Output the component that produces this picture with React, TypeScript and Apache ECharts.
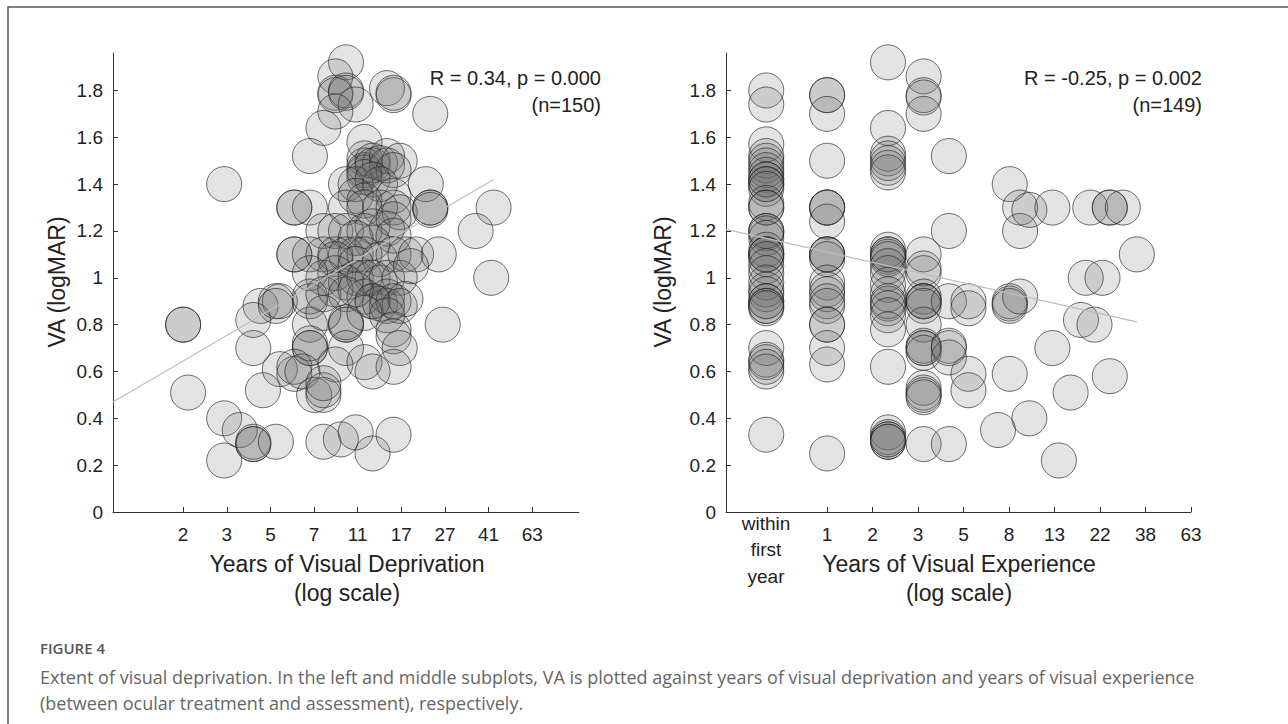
import React, { useEffect, useRef } from 'react';
import * as echarts from 'echarts';

// ---------- tick labels ----------
const leftTickLabels = ['2', '3', '5', '7', '11', '17', '27', '41', '63'];
const rightTickLabels = ['1', '2', '3', '5', '8', '13', '22', '38', '63'];
const yTickValues = [0, 0.2, 0.4, 0.6, 0.8, 1, 1.2, 1.4, 1.6, 1.8];

// ---------- left: years of visual deprivation vs VA ----------
const deprivationPoints: [number, number][] = [
  [10, 1.92], [9, 1.86], [9, 1.79], [9, 1.78], [10, 1.8], [10, 1.79], [11, 1.74], [9, 1.71], [8, 1.64],
  [15, 1.81], [16, 1.78], [16, 1.79], [23, 1.7], [7, 1.52], [3, 1.4], [12, 1.58],
  [12, 1.51], [12, 1.48], [12, 1.46], [12, 1.45], [13, 1.5], [13, 1.48], [14, 1.49], [15, 1.52], [15, 1.48],
  [17, 1.5], [16, 1.46], [12, 1.43], [10, 1.4], [11, 1.4], [13, 1.42], [14, 1.4], [22, 1.4],
  [11, 1.35], [16, 1.35], [12, 1.33], [6, 1.3], [6, 1.3], [7, 1.3], [10, 1.3], [12, 1.3], [14, 1.3], [16, 1.3],
  [17, 1.28], [23, 1.3], [23, 1.3], [23, 1.29], [43, 1.3],
  [8, 1.2], [9, 1.2], [10, 1.2], [12, 1.2], [13, 1.22], [15, 1.21], [16, 1.25], [16, 1.18], [36, 1.2], [11, 1.17], [13, 1.15],
  [6, 1.1], [6, 1.1], [7, 1.1], [8, 1.1], [9, 1.1], [10, 1.1], [11, 1.1], [12, 1.1], [14, 1.08], [16, 1.1],
  [18, 1.1], [20, 1.1], [25, 1.1], [9, 1.08], [11, 1.06],
  [8, 1.0], [9, 1.02], [10, 0.98], [11, 1.0], [12, 1.0], [13, 1.0], [14, 0.98], [15, 1.0], [17, 1.0], [19, 1.05], [42, 1.0], [7, 1.02],
  [4.3, 0.88], [5, 0.9], [5.2, 0.9], [5, 0.88], [7, 0.9], [7, 0.92], [8, 0.93], [9, 0.95], [10, 0.93], [12, 0.92],
  [13, 0.9], [13, 0.9], [14, 0.89], [15, 0.88], [15, 0.92], [16, 0.9], [17, 0.88], [18, 0.91], [11, 0.95],
  [2, 0.8], [2, 0.8], [4, 0.82], [7, 0.8], [10, 0.8], [10, 0.8], [10, 0.81], [16, 0.78], [26, 0.8], [12, 0.85], [15, 0.84], [8, 0.85],
  [4, 0.7], [7, 0.7], [7, 0.7], [7, 0.72], [10, 0.7], [16, 0.75], [17, 0.7],
  [5.2, 0.61], [6, 0.59], [6, 0.62], [6.5, 0.6], [9, 0.63], [12, 0.64], [13, 0.6], [16, 0.62],
  [2.1, 0.51], [4.4, 0.52], [7.3, 0.5], [8, 0.5], [8, 0.52], [8, 0.55],
  [3, 0.4], [3, 0.22], [3.5, 0.35], [4, 0.29], [4, 0.3], [4, 0.29], [5, 0.3], [8, 0.3], [9.5, 0.31], [11, 0.34], [13, 0.25], [16, 0.33],
];

// ---------- right: years of visual experience vs VA (0.5 = within first year) ----------
const experiencePoints: [number, number][] = [
  [0.5, 1.8], [0.5, 1.74], [0.5, 1.57], [0.5, 1.52], [0.5, 1.5], [0.5, 1.48], [0.5, 1.46], [0.5, 1.44], [0.5, 1.42], [0.5, 1.42],
  [0.5, 1.4], [0.5, 1.4], [0.5, 1.38], [0.5, 1.32], [0.5, 1.3], [0.5, 1.3], [0.5, 1.2], [0.5, 1.2], [0.5, 1.19], [0.5, 1.17],
  [0.5, 1.12], [0.5, 1.1], [0.5, 1.1], [0.5, 1.1], [0.5, 1.08], [0.5, 1.05], [0.5, 1.02], [0.5, 0.98], [0.5, 0.95], [0.5, 0.93],
  [0.5, 0.9], [0.5, 0.9], [0.5, 0.88], [0.5, 0.88], [0.5, 0.87], [0.5, 0.7], [0.5, 0.65], [0.5, 0.64], [0.5, 0.62], [0.5, 0.6], [0.5, 0.33],
  [1, 1.78], [1, 1.78], [1, 1.7], [1, 1.5], [1, 1.3], [1, 1.3], [1, 1.3], [1, 1.24], [1, 1.1], [1, 1.1], [1, 1.1], [1, 1.08],
  [1, 0.98], [1, 0.95], [1, 0.93], [1, 0.9], [1, 0.88], [1, 0.8], [1, 0.8], [1, 0.7], [1, 0.63], [1, 0.25],
  [2, 1.92], [2, 1.64], [2, 1.53], [2, 1.51], [2, 1.49], [2, 1.47], [2, 1.45], [2, 1.12], [2, 1.1], [2, 1.1], [2, 1.09], [2, 1.08],
  [2, 1.05], [2, 1.02], [2, 0.97], [2, 0.93], [2, 0.89], [2, 0.9], [2, 0.87], [2, 0.84], [2, 0.78], [2, 0.62],
  [2, 0.34], [2, 0.32], [2, 0.31], [2, 0.31], [2, 0.3], [2, 0.3],
  [3, 1.86], [3, 1.78], [3, 1.77], [3, 1.7], [3, 1.1], [3, 1.04], [3, 1.02], [3, 0.92], [3, 0.9], [3, 0.9], [3, 0.9], [3, 0.88],
  [3, 0.8], [3, 0.71], [3, 0.7], [3, 0.7], [3, 0.68], [3, 0.53], [3, 0.51], [3, 0.5], [3, 0.49], [3, 0.29],
  [4, 1.52], [4, 1.2], [4, 0.9], [4, 0.71], [4, 0.7], [4, 0.66], [4, 0.29],
  [5, 0.9], [5, 0.87], [5, 0.59], [5, 0.52],
  [7, 0.35],
  [8, 1.4], [8, 0.9], [8, 0.89], [8, 0.88], [8, 0.59],
  [9, 1.3], [9, 1.2], [9, 0.92],
  [10, 1.29], [10, 0.4],
  [13, 1.3], [13, 0.7], [14, 0.22], [16, 0.51], [18, 0.82], [19, 1.0], [20, 1.3], [21, 0.8], [23, 1.0],
  [25, 1.3], [25, 1.3], [25, 0.58], [29, 1.3], [34, 1.1],
];

// ---------- regression lines (end points) ----------
const deprivationFit: [number, number][] = [[1, 0.47], [43, 1.42]];
const experienceFit: [number, number][] = [[0.316, 1.207], [34, 0.812]];

const leftStats = ['R = 0.34, p = 0.000', '(n=150)'];
const rightStats = ['R = -0.25, p = 0.002', '(n=149)'];

const captionTitle = 'FIGURE 4';
const captionLines = [
  'Extent of visual deprivation. In the left and middle subplots, VA is plotted against years of visual deprivation and years of visual experience',
  '(between ocular treatment and assessment), respectively.',
];

const lg = (v: number) => Math.log10(v);

const leftRatio = Math.pow(63 / 2, 1 / 8);
const leftTickPos = leftTickLabels.map((_, k) => lg(2) + k * lg(leftRatio));
const rightRatio = Math.pow(63, 1 / 8);
const rightTickPos = rightTickLabels.map((_, k) => k * lg(rightRatio));

const FONT = 'Liberation Sans';
const CAPTION_FONT = 'Open Sans';
const AXIS_COLOR = '#333';
const LABEL_COLOR = '#222';

function makeX(gridIndex: number, min: number, max: number, ticks: number[], labels: string[], start: number, step: number) {
  return {
    type: 'value',
    gridIndex,
    min,
    max,
    axisLine: { show: true, onZero: false, lineStyle: { color: AXIS_COLOR, width: 1 } },
    axisTick: { show: true, inside: true, length: 5, customValues: ticks, lineStyle: { color: AXIS_COLOR } },
    splitLine: { show: false },
    axisLabel: {
      customValues: ticks,
      margin: 13,
      fontSize: 19,
      fontFamily: FONT,
      color: LABEL_COLOR,
      formatter: (v: number) => {
        const k = Math.round((v - start) / step);
        return labels[k] ?? '';
      },
    },
  };
}

function makeY(gridIndex: number) {
  return {
    type: 'value',
    gridIndex,
    min: 0,
    max: 1.96,
    axisLine: { show: true, onZero: false, lineStyle: { color: AXIS_COLOR, width: 1 } },
    axisTick: { show: true, inside: true, length: 5, customValues: yTickValues, lineStyle: { color: AXIS_COLOR } },
    splitLine: { show: false },
    axisLabel: {
      customValues: yTickValues,
      margin: 10,
      fontSize: 19,
      fontFamily: FONT,
      color: LABEL_COLOR,
      formatter: (v: number) => (Math.abs(v - Math.round(v)) < 1e-9 ? String(Math.round(v)) : v.toFixed(1)),
    },
  };
}

function txt(x: number, y: number, text: string, opts: any = {}) {
  return {
    type: 'text',
    x,
    y,
    rotation: opts.rotation || 0,
    style: {
      text,
      fontSize: opts.fontSize || 18,
      fontFamily: opts.fontFamily || FONT,
      fontWeight: opts.fontWeight || 'normal',
      fill: opts.fill || LABEL_COLOR,
      align: opts.align || 'center',
      verticalAlign: opts.verticalAlign || 'middle',
      textAlign: opts.align || 'center',
      textVerticalAlign: opts.verticalAlign || 'middle',
      lineHeight: opts.lineHeight,
    },
  };
}

const scatterStyle = {
  color: 'rgba(105,105,105,0.23)',
  borderColor: 'rgba(40,40,40,0.85)',
  borderWidth: 1,
};

export default function App() {
  const ref = useRef<HTMLDivElement>(null);

  useEffect(() => {
    if (!ref.current) return;
    const chart = echarts.init(ref.current, undefined, { renderer: 'svg' });
    const option: any = {
      animation: false,
      backgroundColor: '#fff',
      grid: [
        { left: 113, top: 53, width: 466, height: 459 },
        { left: 726, top: 53, width: 465, height: 459 },
      ],
      xAxis: [
        makeX(0, 0, 2, leftTickPos, leftTickLabels, lg(2), lg(leftRatio)),
        makeX(1, -0.5, lg(63), rightTickPos, rightTickLabels, 0, lg(rightRatio)),
      ],
      yAxis: [makeY(0), makeY(1)],
      series: [
        {
          type: 'scatter',
          xAxisIndex: 0,
          yAxisIndex: 0,
          symbolSize: 35,
          itemStyle: scatterStyle,
          data: deprivationPoints.map(([x, y]) => [lg(x), y]),
        },
        {
          type: 'scatter',
          xAxisIndex: 1,
          yAxisIndex: 1,
          symbolSize: 35,
          itemStyle: scatterStyle,
          data: experiencePoints.map(([x, y]) => [lg(x), y]),
        },
        {
          type: 'line',
          xAxisIndex: 0,
          yAxisIndex: 0,
          symbol: 'none',
          z: 5,
          lineStyle: { color: '#bdbdbd', width: 1.2 },
          data: deprivationFit.map(([x, y]) => [lg(x), y]),
        },
        {
          type: 'line',
          xAxisIndex: 1,
          yAxisIndex: 1,
          symbol: 'none',
          z: 5,
          lineStyle: { color: '#bdbdbd', width: 1.2 },
          data: experienceFit.map(([x, y]) => [lg(x), y]),
        },
      ],
      graphic: [
        {
          type: 'rect',
          shape: { x: 8, y: 7, width: 1400, height: 1000 },
          style: { fill: 'none', stroke: '#555', lineWidth: 1.5 },
          silent: true,
        },
        txt(57, 282, 'VA (logMAR)', { fontSize: 23, rotation: Math.PI / 2 }),
        txt(663, 282, 'VA (logMAR)', { fontSize: 23, rotation: Math.PI / 2 }),
        txt(347, 564, 'Years of Visual Deprivation', { fontSize: 23 }),
        txt(347, 593, '(log scale)', { fontSize: 23 }),
        txt(959, 564, 'Years of Visual Experience', { fontSize: 23 }),
        txt(959, 593, '(log scale)', { fontSize: 23 }),
        txt(766, 549.5, 'within\nfirst\nyear', { fontSize: 19, lineHeight: 26.5 }),
        txt(601, 78, leftStats[0], { fontSize: 20, align: 'right' }),
        txt(601, 105, leftStats[1], { fontSize: 20, align: 'right' }),
        txt(1202, 78, rightStats[0], { fontSize: 20, align: 'right' }),
        txt(1202, 105, rightStats[1], { fontSize: 20, align: 'right' }),
        txt(40, 648, captionTitle, { fontSize: 15, fontWeight: 600, fontFamily: CAPTION_FONT, fill: '#555', align: 'left' }),
        txt(40, 677, captionLines[0], { fontSize: 18, fontFamily: CAPTION_FONT, fill: '#666', align: 'left' }),
        txt(40, 703, captionLines[1], { fontSize: 18, fontFamily: CAPTION_FONT, fill: '#666', align: 'left' }),
      ],
    };
    chart.setOption(option);
    return () => chart.dispose();
  }, []);

  return <div ref={ref} style={{ position: 'absolute', left: 0, top: 0, width: 1288, height: 724 }} />;
}
